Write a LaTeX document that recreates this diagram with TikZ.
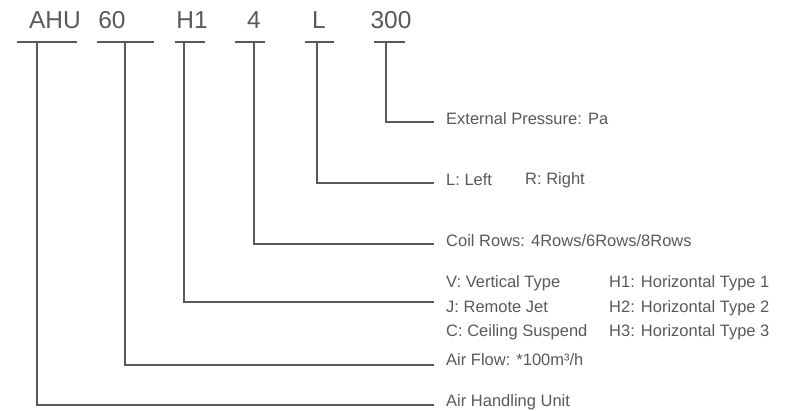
\documentclass[tikz,border=0pt]{standalone}
\usepackage{fontspec}
\setmainfont{Liberation Sans}
\definecolor{ink}{HTML}{595959}
\tikzset{
  code/.style={anchor=base,text=ink,inner sep=0pt,font=\fontsize{24.5}{27}\selectfont},
  desc/.style={anchor=west,text=ink,inner sep=0pt,align=left,font=\fontsize{16.5}{24.5}\selectfont},
  lead/.style={draw=ink,line width=1.4pt}
}
\begin{document}
\begin{tikzpicture}[x=1pt,y=-1pt]
\useasboundingbox (0,0) rectangle (789,411);
% model code
\node[code] (ahu) at (55,29) {AHU};
\node[code] (flow) at (112,29) {60};
\node[code] (kind) at (192,29) {H1};
\node[code] (rows) at (254,29) {4};
\node[code] (side) at (319,29) {L};
\node[code] (press) at (391,29) {300};
\draw[lead] (17,42)--(77,42) (97,42)--(154,42) (175,42)--(205,42)
  (235,42)--(265,42) (305,42)--(334,42) (374,42)--(405,42);
\coordinate (ahu-t) at (37,42);
\coordinate (flow-t) at (125,42);
\coordinate (kind-t) at (184,42);
\coordinate (rows-t) at (254,42);
\coordinate (side-t) at (317,42);
\coordinate (press-t) at (386,42);
% meanings
\node[desc] (pressure) at (446,119) {External Pressure: Pa};
\node[desc] (left) at (446,180) {L: Left};
\node[desc] (right) at (525,180) {R: Right};
\node[desc] (coil) at (446,241) {Coil Rows: 4Rows/6Rows/8Rows};
\node[desc] (type) at (446,308) {V: Vertical Type\\J: Remote Jet\\C: Ceiling Suspend};
\node[desc] (horiz) at (609,308) {H1: Horizontal Type 1\\H2: Horizontal Type 2\\H3: Horizontal Type 3};
\node[desc] (airflow) at (446,360) {Air Flow: *100m³/h};
\node[desc] (unit) at (446,402) {Air Handling Unit};
\draw[lead] (press-t) |- ([xshift=-12pt,yshift=-3pt]pressure.west);
\draw[lead] (side-t) |- ([xshift=-12pt,yshift=-3pt]left.west);
\draw[lead] (rows-t) |- ([xshift=-12pt,yshift=-3pt]coil.west);
\draw[lead] (kind-t) |- ([xshift=-12pt,yshift=6pt]type.west);
\draw[lead] (flow-t) |- ([xshift=-12pt,yshift=-5pt]airflow.west);
\draw[lead] (ahu-t) |- ([xshift=-12pt,yshift=-3pt]unit.west);
\end{tikzpicture}
\end{document}
